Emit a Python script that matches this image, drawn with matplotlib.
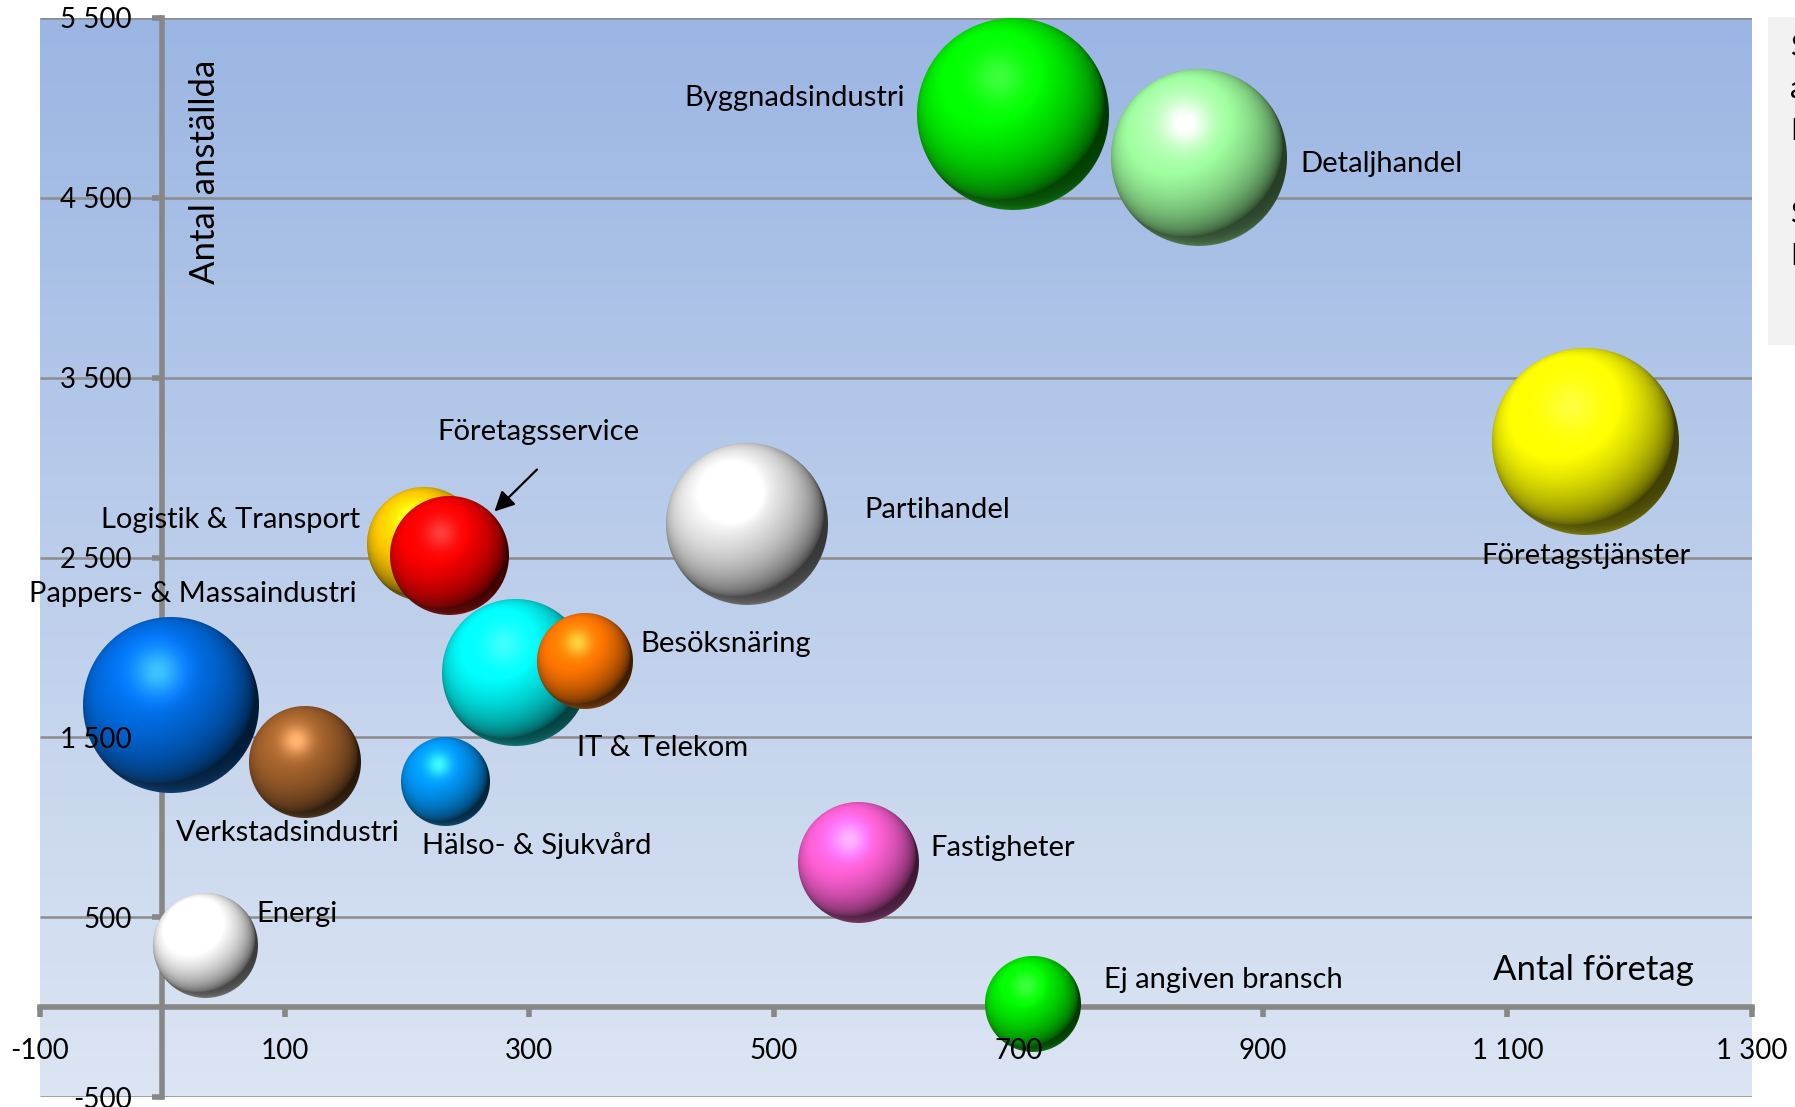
import numpy as np
import matplotlib
matplotlib.use('Agg')
import matplotlib.pyplot as plt
from matplotlib.offsetbox import OffsetImage, AnnotationBbox
from matplotlib.patches import Rectangle
from matplotlib.ticker import FuncFormatter

plt.rcParams['font.family'] = ['Lato', 'DejaVu Sans']

# data
branscher = ['Pappers- & Massaindustri', 'Verkstadsindustri', 'Energi', 'Hälso- & Sjukvård',
             'IT & Telekom', 'Logistik & Transport', 'Företagsservice', 'Besöksnäring',
             'Partihandel', 'Fastigheter', 'Byggnadsindustri', 'Detaljhandel',
             'Ej angiven bransch', 'Företagstjänster']
antal_foretag = [7, 117, 35, 232, 289, 214, 235, 346, 478, 569, 696, 848, 712, 1164]
antal_anstallda = [1682, 1363, 344, 1255, 1860, 2573, 2510, 1924, 2688, 803, 4968, 4720, 19, 3146]
storlek = [5900, 2400, 2100, 1500, 4100, 2500, 2700, 1750, 5000, 2800, 7000, 5900, 1750, 6700]
farger = ['#0064d2', '#965a28', '#efefef', '#008ce6', '#00e6e6', '#f0be00', '#e60000',
          '#f06e00', '#d7d7d7', '#f05ac8', '#00e600', '#96f096', '#00dc00', '#f0f000']

# label positions (x, y, ha)
etiketter = {
    'Byggnadsindustri': (607, 5057, 'right'),
    'Detaljhandel': (931, 4688, 'left'),
    'Företagstjänster': (1164, 2510, 'center'),
    'Partihandel': (574, 2764, 'left'),
    'Logistik & Transport': (162, 2707, 'right'),
    'Pappers- & Massaindustri': (159, 2299, 'right'),
    'Besöksnäring': (391, 2019, 'left'),
    'IT & Telekom': (339, 1439, 'left'),
    'Verkstadsindustri': (11, 968, 'left'),
    'Hälso- & Sjukvård': (212, 898, 'left'),
    'Fastigheter': (628, 885, 'left'),
    'Energi': (77, 516, 'left'),
    'Ej angiven bransch': (770, 153, 'left'),
}

xticks = list(range(-100, 1301, 200))
yticks = list(range(-500, 5501, 1000))


def sphere(hexcol, d):
    n = int(round(d))
    base = np.array(matplotlib.colors.to_rgb(hexcol))
    yy, xx = np.mgrid[0:n, 0:n]
    u = (xx + 0.5 - n / 2) / (n / 2)
    v = -(yy + 0.5 - n / 2) / (n / 2)
    rr = u ** 2 + v ** 2
    z = np.sqrt(np.clip(1 - rr, 0, 1))
    L = np.array([-0.3, 0.45, 0.84])
    L = L / np.linalg.norm(L)
    diff = np.clip(u * L[0] + v * L[1] + z * L[2], 0, 1)
    blob = np.exp(-((u + 0.15) ** 2 + (v - 0.38) ** 2) / 0.07)
    rim = np.clip(-v, 0, 1) ** 2 * (1 - z) ** 1.5
    shade = 0.25 + 0.95 * diff ** 0.7
    img = base[None, None, :] * shade[..., None]
    img = img + 0.4 * blob[..., None] * (0.6 + 0.4 * base[None, None, :])
    img = img + 0.3 * rim[..., None] * (0.3 + 0.7 * base[None, None, :])
    img = np.clip(img, 0, 1)
    alpha = np.clip((1 - np.sqrt(rr)) * n / 2 + 0.5, 0, 1)
    return np.dstack([img, alpha])


fig = plt.figure(figsize=(17.95, 11.07), dpi=100)
pos = [40 / 1795, 10 / 1107, 1712 / 1795, 1079 / 1107]
ax = fig.add_axes(pos)
ax.set_xlim(-100, 1300)
ax.set_ylim(-500, 5500)

# background gradient
grad = np.linspace(0, 1, 256)[:, None]
top = np.array([155, 182, 227]) / 255
bot = np.array([220, 229, 243]) / 255
bg = top[None, None, :] * (1 - grad[..., None]) + bot[None, None, :] * grad[..., None]
ax.imshow(bg, extent=[-100, 1300, -500, 5500], aspect='auto', zorder=0)

ax.hlines(yticks, -100, 1300, color='#8c8c8c', lw=1.8, zorder=0.8)

for s in ['top', 'right']:
    ax.spines[s].set_visible(False)
for s in ['left', 'bottom']:
    ax.spines[s].set_position(('data', 0))
    ax.spines[s].set_color('#878787')
    ax.spines[s].set_linewidth(4)
    ax.spines[s].set_zorder(1)

ax.set_xticks(xticks)
ax.set_yticks(yticks)
ax.tick_params(axis='both', color='#878787', width=4, length=7, labelleft=False, labelbottom=False)
ax.xaxis.set_zorder(1)
ax.yaxis.set_zorder(1)

# bubbles
for i in range(len(branscher)):
    d = 2.29 * np.sqrt(storlek[i])
    im = OffsetImage(sphere(farger[i], d), zoom=1, dpi_cor=False)
    ab = AnnotationBbox(im, (antal_foretag[i], antal_anstallda[i]), frameon=False, pad=0,
                        box_alignment=(0.5, 0.5), zorder=3 + i * 0.01)
    ax.add_artist(ab)

for namn, (x, y, ha) in etiketter.items():
    ax.text(x, y, namn, ha=ha, va='center', fontsize=21, zorder=5)

ax.text(308, 3197, 'Företagsservice', ha='center', va='center', fontsize=21, zorder=5)
ax.annotate('', xy=(270, 2745), xytext=(308, 3000),
            arrowprops=dict(arrowstyle='-|>', color='black', lw=1.6, mutation_scale=30), zorder=5)

ax.text(1170, 204, 'Antal företag', ha='center', va='center', fontsize=25, zorder=5)
ax.text(35, 4643, 'Antal anställda', rotation=90, ha='center', va='center', fontsize=25, zorder=5)

# tick labels on top of the bubbles
ax2 = fig.add_axes(pos, sharex=ax, sharey=ax)
ax2.patch.set_visible(False)
for s in ax2.spines.values():
    s.set_visible(False)
ax2.spines['left'].set_position(('data', 0))
ax2.spines['bottom'].set_position(('data', 0))
fmt = FuncFormatter(lambda v, p: f'{int(v):,}'.replace(',', ' '))
ax2.xaxis.set_major_formatter(fmt)
ax2.yaxis.set_major_formatter(fmt)
ax2.tick_params(axis='both', length=0, labelsize=20, pad=22)

# side box, cut off by the edge of the picture
fig.patches.append(Rectangle((1768 / 1795, 1 - 345 / 1107), 0.05, 328 / 1107,
                             transform=fig.transFigure, facecolor='#f2f2f2', edgecolor='none'))
fig.text(1790 / 1795, 1 - 33 / 1107, 'S\na\nL\n\nS\nL', ha='left', va='top', fontsize=22,
         linespacing=1.6)

fig.savefig('out.png', dpi=100)
